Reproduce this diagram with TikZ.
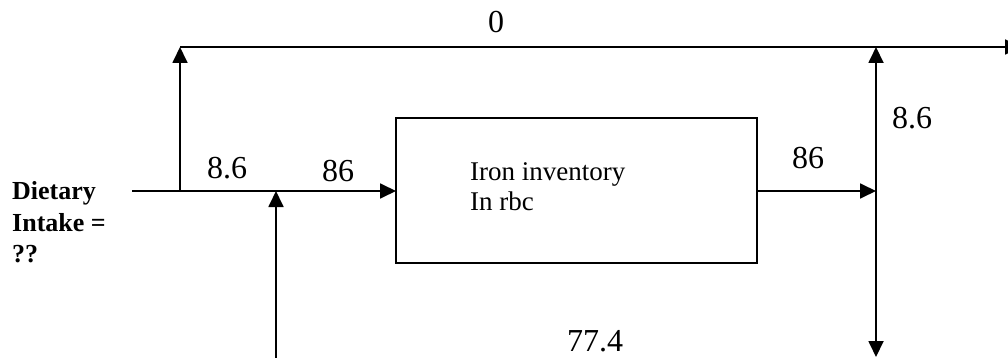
\documentclass[tikz,border=0pt]{standalone}
\usepackage{fontspec}
\setmainfont{Liberation Serif}
\usetikzlibrary{arrows.meta}
\begin{document}
\begin{tikzpicture}[x=1pt,y=-1pt,
  flow/.style={line width=1.8pt,-{Triangle[length=16pt,width=15pt]}},
  bothflow/.style={line width=1.8pt,{Triangle[length=16pt,width=15pt]}-{Triangle[length=16pt,width=15pt]}},
  plain/.style={line width=1.8pt},
  numlabel/.style={inner sep=0pt,font=\fontsize{32}{36}\selectfont},
  boxtext/.style={inner sep=0pt,anchor=base west,font=\fontsize{27}{30}\selectfont},
  intake/.style={inner sep=0pt,anchor=base west,font=\fontsize{26}{30}\selectfont\bfseries}]
\useasboundingbox (0,0) rectangle (1008,358);
\clip (0,0) rectangle (1008,358);
% box
\draw[line width=1.8pt] (396,118) rectangle (757,263);
\coordinate (boxW) at (396,191);
\coordinate (boxE) at (757,191);
% junctions
\coordinate (start) at (132,191);
\coordinate (jL) at (180,191);
\coordinate (jLtop) at (180,47);
\coordinate (jB) at (276,191);
\coordinate (bottomIn) at (276,370);
\coordinate (jR) at (876,191);
\coordinate (jRtop) at (876,47);
\coordinate (jRbot) at (876,357);
\coordinate (topEnd) at (1021,47);
% connectors
\draw[plain] (start) -- (jB);
\draw[flow] (jB) -- (boxW);
\draw[flow] (jL) -- (jLtop);
\draw[flow] (jLtop) -- (topEnd);
\draw[flow] (bottomIn) -- (jB);
\draw[flow] (boxE) -- (jR);
\draw[bothflow] (jRbot) -- (jRtop);
% labels
\node[numlabel] (l0) at (496,22) {0};
\node[numlabel] (l86a) at (227,168) {8.6};
\node[numlabel] (l86b) at (338,171) {86};
\node[numlabel] (l86c) at (808,158) {86};
\node[numlabel] (l86d) at (912,118) {8.6};
\node[numlabel] (l774) at (595,341) {77.4};
\node[boxtext] (bt1) at (470,180) {Iron inventory};
\node[boxtext] (bt2) at (470,210) {In rbc};
\node[intake] (d1) at (12,199) {Dietary};
\node[intake] (d2) at (12,231) {Intake =};
\node[intake] (d3) at (12,262) {??};
\end{tikzpicture}
\end{document}
